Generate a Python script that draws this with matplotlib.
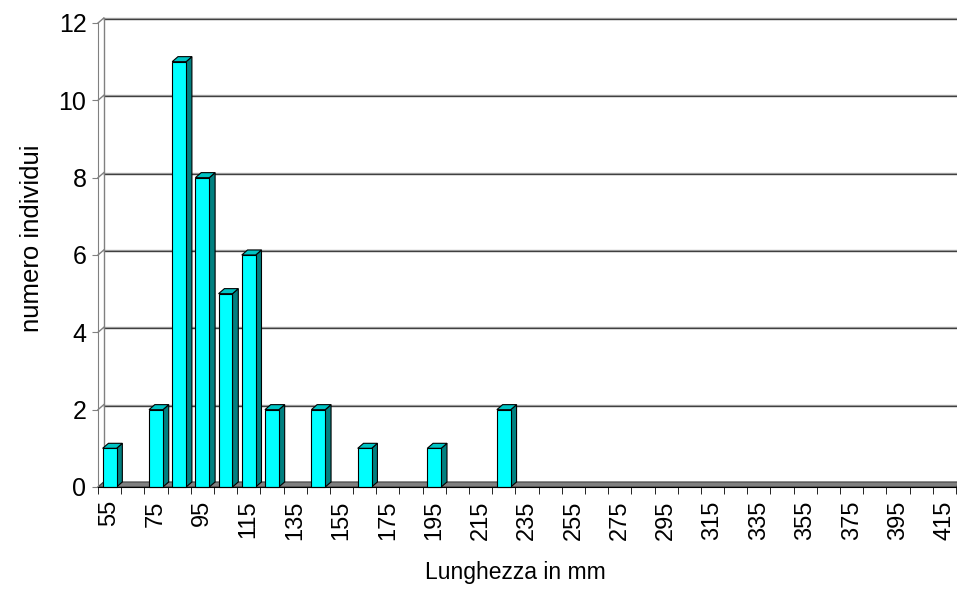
import numpy as np
import matplotlib
matplotlib.use('Agg')
import matplotlib.pyplot as plt
from matplotlib.patches import Polygon

plt.rcParams['font.family'] = ['Liberation Sans', 'DejaVu Sans']

# classi di lunghezza (mm) e numero di individui per classe
lengths = list(range(55, 416, 10))
counts = [1, 0, 2, 11, 8, 5, 6, 2, 0, 2, 0, 1, 0, 0, 1, 0, 0, 2] + [0] * 19
tick_labels = [str(v) for v in lengths[::2]]
y_ticks = [0, 2, 4, 6, 8, 10, 12]

# fake 3d depth (data units) and colours, excel style
DX, DY = 0.25, 0.13
FRONT, SIDE, TOP = '#00ffff', '#008080', '#00c4c4'
WALL = '#808080'

fig = plt.figure(figsize=(9.57, 5.89), dpi=100)
ax = fig.add_axes([98/957, 102/589, 858/957, 464/589])
n = len(lengths)
ax.set_xlim(-0.5, n - 0.5)
ax.set_ylim(0, 12)

# back wall: gridlines, left wall edge, small diagonals
for v in y_ticks[1:]:
    ax.plot([-0.5 + DX, n + 1], [v + DY, v + DY], color='#b0b0b0', lw=1.0,
            clip_on=False, zorder=1)
    ax.plot([-0.5 + DX, n + 1], [v + DY - 0.03, v + DY - 0.03], color='#404040', lw=1.0,
            clip_on=False, zorder=1)
for v in y_ticks:
    ax.plot([-0.5, -0.5 + DX], [v, v + DY], color=WALL, lw=1.0, clip_on=False, zorder=1)
ax.plot([-0.5 + DX, -0.5 + DX], [DY, 12 + DY], color=WALL, lw=1.0, clip_on=False, zorder=1)

# floor
ax.add_patch(Polygon([(-0.5, 0), (n - 0.5, 0), (n - 0.5 + DX, DY), (-0.5 + DX, DY)],
                     closed=True, fc=WALL, ec='#404040', lw=0.8, clip_on=False, zorder=2))

# bars
x = np.arange(n)
shown = [i for i, c in enumerate(counts) if c > 0]
ax.bar([x[i] for i in shown], [counts[i] for i in shown], width=0.6, color=FRONT,
       edgecolor='black', linewidth=0.8, zorder=5, clip_on=False)
for i in shown:
    c = counts[i]
    x0, x1 = i - 0.3, i + 0.3
    ax.add_patch(Polygon([(x1, 0), (x1 + DX, DY), (x1 + DX, c + DY), (x1, c)],
                         closed=True, fc=SIDE, ec='black', lw=0.8, clip_on=False, zorder=4))
    ax.add_patch(Polygon([(x0, c), (x1, c), (x1 + DX, c + DY), (x0 + DX, c + DY)],
                         closed=True, fc=TOP, ec='black', lw=0.8, clip_on=False, zorder=4))

# axes
for s in ['top', 'right']:
    ax.spines[s].set_visible(False)
ax.spines['left'].set_color(WALL)
ax.spines['bottom'].set_color('black')
ax.spines['bottom'].set_zorder(6)

ax.set_yticks(y_ticks)
ax.tick_params(axis='y', length=4.3, color=WALL, labelsize=18, pad=4)
ax.set_xticks(x[::2])
ax.set_xticklabels(tick_labels, rotation=90, fontsize=17)
ax.set_xticks(np.arange(-0.5, n, 1), minor=True)
ax.tick_params(axis='x', which='major', length=0, pad=9.5)
ax.tick_params(axis='x', which='minor', length=5, color='black')

fig.text(515/957, 1 - 572/589, 'Lunghezza in mm', fontsize=16.5, ha='center', va='center')
fig.text(32/957, 1 - 238/589, 'numero individui', fontsize=18.5, rotation=90,
         ha='center', va='center')

fig.savefig('out.png', dpi=100)
